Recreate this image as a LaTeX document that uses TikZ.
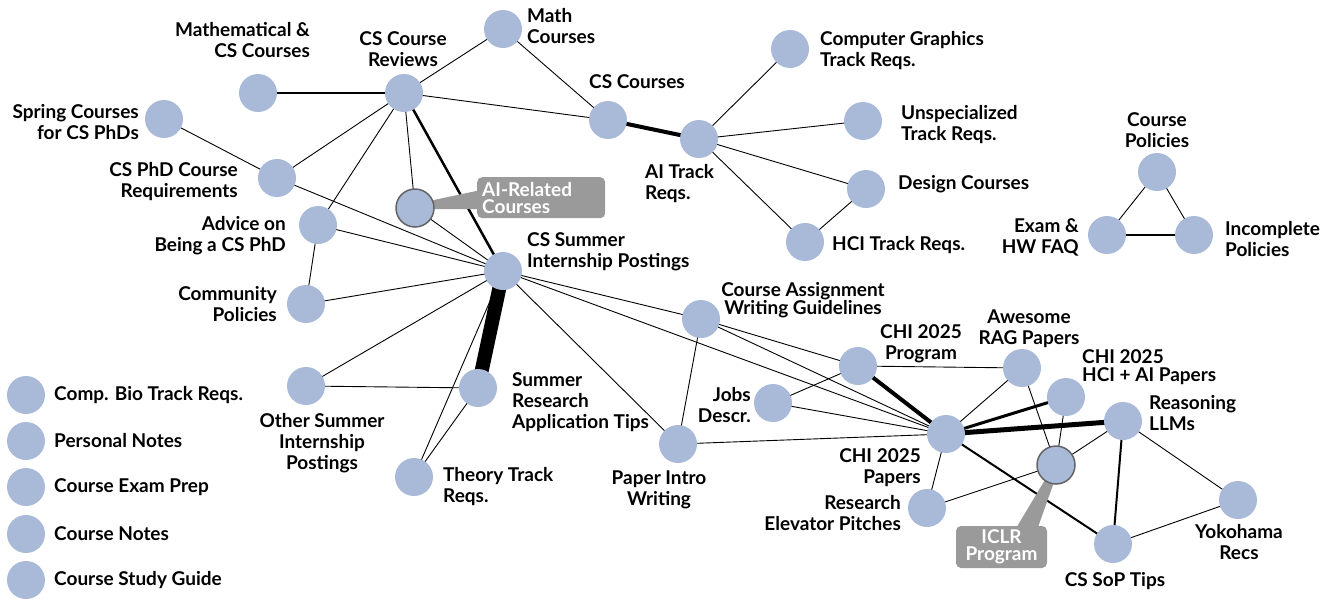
\documentclass[tikz,border=0pt]{standalone}
\usepackage{fontspec}
\setmainfont{Lato}
\definecolor{nodefill}{RGB}{169,185,216}
\definecolor{hlgray}{RGB}{100,100,100}
\definecolor{callgray}{RGB}{154,154,154}
\pgfdeclarelayer{edges}
\pgfdeclarelayer{tails}
\pgfsetlayers{edges,tails,main}
\tikzset{
  nd/.style={circle, fill=nodefill, minimum size=38pt, inner sep=0pt},
  hl/.style={circle, fill=nodefill, draw=hlgray, line width=1.5pt, minimum size=38pt, inner sep=0pt},
  lbl/.style={inner sep=0pt, font=\fontsize{19}{21}\selectfont\bfseries},
  lbltight/.style={inner sep=0pt, font=\fontsize{19}{18}\selectfont\bfseries},
  callbox/.style={fill=callgray, rounded corners=5pt, text=white, inner ysep=2pt, inner xsep=5pt, font=\fontsize{19}{17}\selectfont\bfseries},
  ethin/.style={line width=0.9pt, black},
  emed/.style={line width=2pt, black},
  ethick/.style={line width=4pt, black},
  eheavy/.style={line width=14pt, black},
}
\begin{document}
\begin{tikzpicture}[x=1pt,y=-1pt]
\useasboundingbox (0,0) rectangle (1328,600);
% nodes
\node[nd] (mathcs) at (258,93) {};
\node[nd] (csrev) at (404,93) {};
\node[nd] (math) at (503,29) {};
\node[nd] (cscourses) at (608,120) {};
\node[nd] (aitrack) at (699,139) {};
\node[nd] (cg) at (790,49) {};
\node[nd] (unspec) at (863,121) {};
\node[nd] (design) at (866,189) {};
\node[nd] (hci) at (805,242) {};
\node[nd] (spring) at (164,119) {};
\node[nd] (phdreq) at (277,178) {};
\node[nd] (advice) at (318,225) {};
\node[hl] (ai) at (415,208) {};
\node[nd] (summer) at (503,271) {};
\node[nd] (community) at (306,304) {};
\node[nd] (other) at (306,386) {};
\node[nd] (sra) at (478,388) {};
\node[nd] (theory) at (414,477) {};
\node[nd] (cag) at (701,319) {};
\node[nd] (paperintro) at (678,444) {};
\node[nd] (chiprog) at (858,366) {};
\node[nd] (jobs) at (773,403) {};
\node[nd] (chipapers) at (946,434) {};
\node[nd] (rag) at (1022,368) {};
\node[nd] (hciai) at (1066,397) {};
\node[nd] (reasoning) at (1123,421) {};
\node[hl] (iclr) at (1056,465) {};
\node[nd] (research) at (927,508) {};
\node[nd] (sop) at (1113,544) {};
\node[nd] (yokohama) at (1238,500) {};
\node[nd] (cpol) at (1157,172) {};
\node[nd] (exam) at (1107,235) {};
\node[nd] (incomplete) at (1194,235) {};
\node[nd] (leg1) at (26,395) {};
\node[nd] (leg2) at (26,441) {};
\node[nd] (leg3) at (26,487) {};
\node[nd] (leg4) at (26,534) {};
\node[nd] (leg5) at (26,580) {};
% labels
\node[lbl, anchor=north east, align=right] (t-mathcs) at (310,22) {Mathematical \&\\CS Courses};
\node[lbl, anchor=north, align=center] (t-csrev) at (403,31) {CS Course\\Reviews};
\node[lbl, anchor=north west, align=left] (t-math) at (527,8) {Math\\Courses};
\node[lbl, anchor=north west, align=left] (t-cscourses) at (589,74) {CS Courses};
\node[lbl, anchor=north west, align=left] (t-aitrack) at (645,164) {AI Track\\Reqs.};
\node[lbl, anchor=north west, align=left] (t-cg) at (820,31) {Computer Graphics\\Track Reqs.};
\node[lbl, anchor=north west, align=left] (t-unspec) at (901,105) {Unspecialized\\Track Reqs.};
\node[lbl, anchor=north west, align=left] (t-design) at (898,175) {Design Courses};
\node[lbl, anchor=north west, align=left] (t-hci) at (832,236) {HCI Track Reqs.};
\node[lbl, anchor=north, align=center] (t-cpol) at (1157,112) {Course\\Policies};
\node[lbl, anchor=north east, align=right] (t-exam) at (1079,218) {Exam \&\\HW FAQ};
\node[lbl, anchor=north west, align=left] (t-incomplete) at (1225,221) {Incomplete\\Policies};
\node[lbl, anchor=north east, align=right] (t-spring) at (139,104) {Spring Courses\\for CS PhDs};
\node[lbl, anchor=north east, align=right] (t-phdreq) at (238,162) {CS PhD Course\\Requirements};
\node[lbl, anchor=north east, align=right] (t-advice) at (286,216) {Advice on\\Being a CS PhD};
\node[lbl, anchor=north east, align=right] (t-community) at (277,286) {Community\\Policies};
\node[lbl, anchor=north west, align=left] (t-summer) at (527,232) {CS Summer\\Internship Postings};
\node[lbl, anchor=north, align=center] (t-other) at (322,413) {Other Summer\\Internship\\Postings};
\node[lbl, anchor=north west, align=left] (t-sra) at (512,372) {Summer\\Research\\Application Tips};
\node[lbl, anchor=north west, align=left] (t-theory) at (443,467) {Theory Track\\Reqs.};
\node[lbltight, anchor=north, align=center] (t-cag) at (803,282) {Course Assignment\\Writing Guidelines};
\node[lbl, anchor=north, align=center] (t-chiprog) at (921,324) {CHI 2025\\Program};
\node[lbl, anchor=north, align=center] (t-rag) at (1029,310) {Awesome\\RAG Papers};
\node[lbl, anchor=north east, align=right] (t-jobs) at (751,387) {Jobs\\Descr.};
\node[lbl, anchor=north east, align=right] (t-chipapers) at (921,448) {CHI 2025\\Papers};
\node[lbl, anchor=north, align=center] (t-paperintro) at (659,471) {Paper Intro\\Writing};
\node[lbl, anchor=north east, align=right] (t-research) at (901,495) {Research\\Elevator Pitches};
\node[lbltight, anchor=north west, align=left] (t-hciai) at (1082,349) {CHI 2025\\HCI + AI Papers};
\node[lbl, anchor=north west, align=left] (t-reasoning) at (1149,395) {Reasoning\\LLMs};
\node[lbl, anchor=north, align=center] (t-sop) at (1115,572) {CS SoP Tips};
\node[lbl, anchor=north, align=center] (t-yokohama) at (1239,524) {Yokohama\\Recs};
\node[lbl, anchor=west] (t-leg1) at (54,395) {Comp. Bio Track Reqs.};
\node[lbl, anchor=west] (t-leg2) at (54,441) {Personal Notes};
\node[lbl, anchor=west] (t-leg3) at (54,487) {Course Exam Prep};
\node[lbl, anchor=west] (t-leg4) at (54,534) {Course Notes};
\node[lbl, anchor=west] (t-leg5) at (54,580) {Course Study Guide};
% callouts
\node[callbox, anchor=north west, minimum width=128pt, minimum height=41pt, text width=118pt, align=left] (aibox) at (477,177) {AI-Related\\Courses};
\node[callbox, minimum width=91pt, minimum height=42pt, align=center] (iclrbox) at (1001.5,547) {ICLR\\Program};
\begin{pgfonlayer}{tails}
\fill[callgray] (415,204) -- (481,190) -- (481,209) -- (415,209) -- cycle;
\fill[callgray] (1052,468) -- (1059,468) -- (1037,530) -- (1015,530) -- cycle;
\end{pgfonlayer}
% edges
\begin{pgfonlayer}{edges}
\draw[emed] (mathcs.center) -- (csrev.center);
\draw[ethin] (csrev.center) -- (math.center);
\draw[ethin] (csrev.center) -- (cscourses.center);
\draw[ethin] (math.center) -- (cscourses.center);
\draw[ethick] (cscourses.center) -- (aitrack.center);
\draw[ethin] (aitrack.center) -- (cg.center);
\draw[ethin] (aitrack.center) -- (unspec.center);
\draw[ethin] (aitrack.center) -- (design.center);
\draw[ethin] (aitrack.center) -- (hci.center);
\draw[ethin] (design.center) -- (hci.center);
\draw[ethin] (spring.center) -- (phdreq.center);
\draw[ethin] (phdreq.center) -- (csrev.center);
\draw[ethin] (phdreq.center) -- (summer.center);
\draw[ethin] (advice.center) -- (csrev.center);
\draw[ethin] (advice.center) -- (summer.center);
\draw[ethin] (advice.center) -- (community.center);
\draw[ethin] (csrev.center) -- (ai.center);
\draw[line width=2.5pt] (csrev.center) -- (summer.center);
\draw[ethin] (ai.center) -- (summer.center);
\draw[ethin] (community.center) -- (summer.center);
\draw[ethin] (other.center) -- (summer.center);
\draw[ethin] (other.center) -- (sra.center);
\draw[eheavy] (summer.center) -- (sra.center);
\draw[ethin] (summer.center) -- (theory.center);
\draw[ethin] (sra.center) -- (theory.center);
\draw[ethin] (summer.center) -- (paperintro.center);
\draw[ethin] (summer.center) -- (cag.center);
\draw[ethin] (summer.center) -- (chipapers.center);
\draw[ethin] (cag.center) -- (chiprog.center);
\draw[ethin] (cag.center) -- (chipapers.center);
\draw[ethin] (cag.center) -- (paperintro.center);
\draw[ethin] (paperintro.center) -- (chipapers.center);
\draw[ethin] (jobs.center) -- (chiprog.center);
\draw[ethin] (jobs.center) -- (chipapers.center);
\draw[ethin] (chiprog.center) -- (rag.center);
\draw[ethick] (chiprog.center) -- (chipapers.center);
\draw[ethin] (chipapers.center) -- (rag.center);
\draw[line width=3pt] (chipapers.center) -- (hciai.center);
\draw[line width=5pt] (chipapers.center) -- (reasoning.center);
\draw[emed] (chipapers.center) -- (sop.center);
\draw[ethin] (chipapers.center) -- (research.center);
\draw[ethin] (rag.center) -- (iclr.center);
\draw[ethin] (hciai.center) -- (iclr.center);
\draw[ethin] (research.center) -- (iclr.center);
\draw[ethin] (iclr.center) -- (reasoning.center);
\draw[emed] (reasoning.center) -- (sop.center);
\draw[ethin] (reasoning.center) -- (yokohama.center);
\draw[ethin] (sop.center) -- (yokohama.center);
\draw[ethin] (cpol.center) -- (exam.center);
\draw[ethin] (cpol.center) -- (incomplete.center);
\draw[emed] (exam.center) -- (incomplete.center);
\end{pgfonlayer}
\end{tikzpicture}
\end{document}
